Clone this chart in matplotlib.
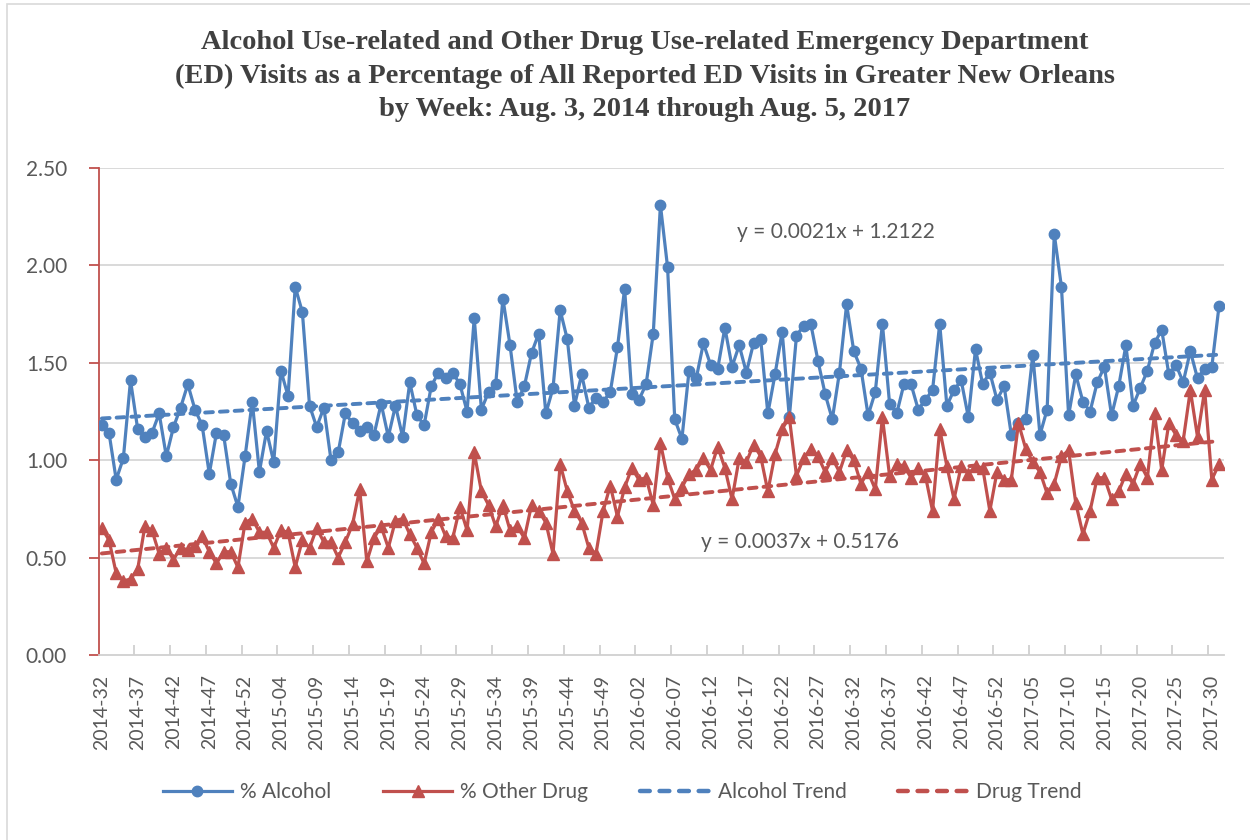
import matplotlib
matplotlib.use("Agg")
import matplotlib.pyplot as plt
from matplotlib.patches import Rectangle
from matplotlib.lines import Line2D
import numpy as np

# week labels: 2014-32 .. 2017-31 (2014 has 53 epi weeks)
weeks = ([f"2014-{w:02d}" for w in range(32, 54)] +
         [f"2015-{w:02d}" for w in range(1, 53)] +
         [f"2016-{w:02d}" for w in range(1, 53)] +
         [f"2017-{w:02d}" for w in range(1, 32)])

alcohol = [1.18, 1.14, 0.90, 1.01, 1.41, 1.16, 1.12, 1.14, 1.24, 1.02,
           1.17, 1.27, 1.39, 1.26, 1.18, 0.93, 1.14, 1.13, 0.88, 0.76,
           1.02, 1.30, 0.94, 1.15, 0.99, 1.46, 1.33, 1.89, 1.76, 1.28,
           1.17, 1.27, 1.00, 1.04, 1.24, 1.19, 1.15, 1.17, 1.13, 1.29,
           1.12, 1.28, 1.12, 1.40, 1.23, 1.18, 1.38, 1.45, 1.42, 1.45,
           1.39, 1.25, 1.73, 1.26, 1.35, 1.39, 1.83, 1.59, 1.30, 1.38,
           1.55, 1.65, 1.24, 1.37, 1.77, 1.62, 1.28, 1.44, 1.27, 1.32,
           1.30, 1.35, 1.58, 1.88, 1.34, 1.31, 1.39, 1.65, 2.31, 1.99,
           1.21, 1.11, 1.46, 1.42, 1.60, 1.49, 1.47, 1.68, 1.48, 1.59,
           1.45, 1.60, 1.62, 1.24, 1.44, 1.66, 1.22, 1.64, 1.69, 1.70,
           1.51, 1.34, 1.21, 1.45, 1.80, 1.56, 1.47, 1.23, 1.35, 1.70,
           1.29, 1.24, 1.39, 1.39, 1.26, 1.31, 1.36, 1.70, 1.28, 1.36,
           1.41, 1.22, 1.57, 1.39, 1.45, 1.31, 1.38, 1.13, 1.19, 1.21,
           1.54, 1.13, 1.26, 2.16, 1.89, 1.23, 1.44, 1.30, 1.25, 1.40,
           1.48, 1.23, 1.38, 1.59, 1.28, 1.37, 1.46, 1.60, 1.67, 1.44,
           1.49, 1.40, 1.56, 1.42, 1.47, 1.48, 1.79]

other_drug = [0.65, 0.59, 0.42, 0.38, 0.39, 0.44, 0.66, 0.64, 0.52, 0.55,
              0.49, 0.55, 0.54, 0.56, 0.61, 0.53, 0.47, 0.53, 0.53, 0.45,
              0.68, 0.70, 0.63, 0.63, 0.55, 0.64, 0.63, 0.45, 0.59, 0.55,
              0.65, 0.58, 0.58, 0.50, 0.58, 0.67, 0.85, 0.48, 0.60, 0.66,
              0.55, 0.69, 0.70, 0.62, 0.55, 0.47, 0.63, 0.70, 0.61, 0.60,
              0.76, 0.64, 1.04, 0.84, 0.77, 0.66, 0.77, 0.64, 0.66, 0.60,
              0.77, 0.74, 0.68, 0.52, 0.98, 0.84, 0.74, 0.68, 0.55, 0.52,
              0.74, 0.87, 0.71, 0.86, 0.96, 0.90, 0.91, 0.77, 1.09, 0.91,
              0.80, 0.86, 0.93, 0.95, 1.01, 0.95, 1.07, 0.96, 0.80, 1.01,
              0.99, 1.08, 1.02, 0.84, 1.03, 1.16, 1.22, 0.92, 1.01, 1.06,
              1.02, 0.94, 1.01, 0.94, 1.05, 1.00, 0.88, 0.94, 0.85, 1.22,
              0.92, 0.98, 0.97, 0.91, 0.96, 0.92, 0.74, 1.16, 0.97, 0.80,
              0.97, 0.93, 0.97, 0.96, 0.74, 0.94, 0.90, 0.90, 1.19, 1.06,
              0.99, 0.94, 0.83, 0.88, 1.02, 1.05, 0.78, 0.62, 0.74, 0.91,
              0.91, 0.80, 0.84, 0.93, 0.88, 0.98, 0.91, 1.24, 0.95, 1.19,
              1.13, 1.10, 1.36, 1.12, 1.36, 0.90, 0.98]

# linear trend coefficients (x = week number starting at 1)
alc_slope, alc_icept = 0.0021, 1.2122
drug_slope, drug_icept = 0.0037, 0.5176

BLUE = "#4F81BD"
RED = "#C0504D"
GREY_TXT = "#595959"
W, H = 1250, 840

fig = plt.figure(figsize=(12.5, 8.4), dpi=100)
ax = fig.add_axes([99 / W, 1 - 655 / H, (1224 - 99) / W, (655 - 168) / H])

x = np.arange(len(weeks))
xn = x + 1
dash = (0, (2.0, 1.8))

ax.plot(x, alcohol, color=BLUE, lw=2.3, marker="o", ms=7.5, zorder=4)
ax.plot(x, other_drug, color=RED, lw=2.3, marker="^", ms=8, zorder=4)
ax.plot(x, alc_slope * xn + alc_icept, color=BLUE, lw=2.8, ls=dash,
        dash_capstyle="round", zorder=3)
ax.plot(x, drug_slope * xn + drug_icept, color=RED, lw=2.8, ls=dash,
        dash_capstyle="round", zorder=3)

ax.set_xlim(-0.4, 156.7)
ax.set_ylim(0, 2.5)
yt = np.arange(0, 2.51, 0.5)
ax.set_yticks(yt)
ax.set_yticklabels([f"{v:.2f}" for v in yt])
ax.set_xticks(x[::5])
ax.set_xticklabels(weeks[::5], rotation=90)
ax.set_xticks(np.arange(4.5, 156, 5), minor=True)

for v in yt[1:]:
    ax.axhline(v, color="#d9d9d9", lw=1.4, zorder=1)

for s in ["top", "right"]:
    ax.spines[s].set_visible(False)
ax.spines["left"].set_color(RED)
ax.spines["left"].set_linewidth(1.3)
ax.spines["bottom"].set_color("#d0d0d0")
ax.spines["bottom"].set_linewidth(1.3)
ax.tick_params(axis="y", colors=RED, labelcolor=GREY_TXT, labelsize=15, length=7, width=1.3, pad=16)
ax.tick_params(axis="x", which="major", length=0, labelcolor=GREY_TXT, labelsize=14, pad=14)
ax.tick_params(axis="x", which="minor", direction="in", colors="#d0d0d0", length=7, width=1.3)
for lab in ax.get_xticklabels() + ax.get_yticklabels():
    lab.set_fontfamily("Lato")

# trend equations
fig.text(836 / W, 1 - 232 / H, "y = 0.0021x + 1.2122", ha="center", va="center",
         fontsize=15, color=GREY_TXT, family="Lato")
fig.text(800 / W, 1 - 542 / H, "y = 0.0037x + 0.5176", ha="center", va="center",
         fontsize=15, color=GREY_TXT, family="Lato")

fig.text(645 / W, 1 - 76 / H,
         "Alcohol Use-related and Other Drug Use-related Emergency Department\n"
         "(ED) Visits as a Percentage of All Reported ED Visits in Greater New Orleans\n"
         "by Week: Aug. 3, 2014 through Aug. 5, 2017",
         ha="center", va="center", fontsize=20.5, fontweight="bold", family="Liberation Serif",
         color="#404040", linespacing=1.46)

leg_dash = (0, (2.2, 2.2))
handles = [
    Line2D([], [], color=BLUE, lw=2.3, marker="o", ms=7.5),
    Line2D([], [], color=RED, lw=2.3, marker="^", ms=8),
    Line2D([], [], color=BLUE, lw=3.2, ls=leg_dash, dash_capstyle="round"),
    Line2D([], [], color=RED, lw=3.2, ls=leg_dash, dash_capstyle="round"),
]
fig.legend(handles, ["% Alcohol", "% Other Drug", "Alcohol Trend", "Drug Trend"],
           loc="center", bbox_to_anchor=(622 / W, 1 - 792 / H), ncol=4, frameon=False,
           handlelength=3.3, columnspacing=2.5, handletextpad=0.4,
           prop={"family": "Lato", "size": 15}, labelcolor=GREY_TXT)

# chart area border
fig.patches.append(Rectangle((7 / W, -0.01), 1.1, 1 - 4 / H + 0.01, transform=fig.transFigure,
                             fill=False, edgecolor="#d9d9d9", lw=1.2))

fig.savefig("out.png", dpi=100)
